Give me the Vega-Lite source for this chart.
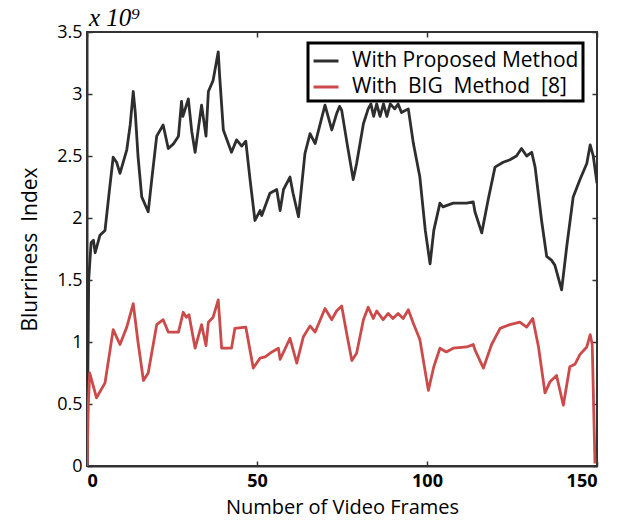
{
  "$schema": "https://vega.github.io/schema/vega-lite/v6.json",
  "width": 510,
  "height": 434,
  "autosize": {"type": "none"},
  "padding": {"left": 87, "top": 32, "right": 23, "bottom": 59},
  "background": "white",
  "config": {
    "view": {"stroke": "#333", "strokeWidth": 2},
    "font": "Lato",
    "legend": {"strokeWidth": 3}
  },
  "title": {
    "text": "x 10⁹",
    "anchor": "start",
    "frame": "group",
    "font": "Liberation Serif",
    "fontSize": 25,
    "fontStyle": "italic",
    "fontWeight": "normal",
    "color": "black",
    "offset": -8,
    "dx": 2
  },
  "data": {
    "values": [
      {"f": 0, "v": 0, "s": "With Proposed Method"},
      {"f": 0.5, "v": 1.5, "s": "With Proposed Method"},
      {"f": 1.2, "v": 1.8, "s": "With Proposed Method"},
      {"f": 1.9, "v": 1.82, "s": "With Proposed Method"},
      {"f": 2.4, "v": 1.72, "s": "With Proposed Method"},
      {"f": 3.8, "v": 1.86, "s": "With Proposed Method"},
      {"f": 5.3, "v": 1.9, "s": "With Proposed Method"},
      {"f": 6.5, "v": 2.2, "s": "With Proposed Method"},
      {"f": 7.7, "v": 2.49, "s": "With Proposed Method"},
      {"f": 8.7, "v": 2.45, "s": "With Proposed Method"},
      {"f": 9.7, "v": 2.36, "s": "With Proposed Method"},
      {"f": 11.7, "v": 2.55, "s": "With Proposed Method"},
      {"f": 12.7, "v": 2.75, "s": "With Proposed Method"},
      {"f": 13.6, "v": 3.02, "s": "With Proposed Method"},
      {"f": 14.2, "v": 2.85, "s": "With Proposed Method"},
      {"f": 15, "v": 2.5, "s": "With Proposed Method"},
      {"f": 16.1, "v": 2.17, "s": "With Proposed Method"},
      {"f": 18, "v": 2.05, "s": "With Proposed Method"},
      {"f": 19, "v": 2.3, "s": "With Proposed Method"},
      {"f": 20.5, "v": 2.66, "s": "With Proposed Method"},
      {"f": 22.4, "v": 2.75, "s": "With Proposed Method"},
      {"f": 23.9, "v": 2.56, "s": "With Proposed Method"},
      {"f": 25.5, "v": 2.6, "s": "With Proposed Method"},
      {"f": 26.9, "v": 2.66, "s": "With Proposed Method"},
      {"f": 27.8, "v": 2.94, "s": "With Proposed Method"},
      {"f": 28.2, "v": 2.82, "s": "With Proposed Method"},
      {"f": 29.8, "v": 2.96, "s": "With Proposed Method"},
      {"f": 30.8, "v": 2.7, "s": "With Proposed Method"},
      {"f": 31.8, "v": 2.53, "s": "With Proposed Method"},
      {"f": 33.7, "v": 2.91, "s": "With Proposed Method"},
      {"f": 35, "v": 2.66, "s": "With Proposed Method"},
      {"f": 35.7, "v": 3.02, "s": "With Proposed Method"},
      {"f": 37.1, "v": 3.11, "s": "With Proposed Method"},
      {"f": 38.6, "v": 3.34, "s": "With Proposed Method"},
      {"f": 39, "v": 3.15, "s": "With Proposed Method"},
      {"f": 40.1, "v": 2.71, "s": "With Proposed Method"},
      {"f": 42.5, "v": 2.53, "s": "With Proposed Method"},
      {"f": 44, "v": 2.63, "s": "With Proposed Method"},
      {"f": 45.5, "v": 2.58, "s": "With Proposed Method"},
      {"f": 46.7, "v": 2.62, "s": "With Proposed Method"},
      {"f": 48, "v": 2.3, "s": "With Proposed Method"},
      {"f": 49.4, "v": 1.98, "s": "With Proposed Method"},
      {"f": 50.9, "v": 2.06, "s": "With Proposed Method"},
      {"f": 51.4, "v": 2.02, "s": "With Proposed Method"},
      {"f": 53.8, "v": 2.2, "s": "With Proposed Method"},
      {"f": 55.8, "v": 2.23, "s": "With Proposed Method"},
      {"f": 56.8, "v": 2.06, "s": "With Proposed Method"},
      {"f": 57.8, "v": 2.23, "s": "With Proposed Method"},
      {"f": 59.7, "v": 2.33, "s": "With Proposed Method"},
      {"f": 60.6, "v": 2.2, "s": "With Proposed Method"},
      {"f": 62.2, "v": 2.01, "s": "With Proposed Method"},
      {"f": 64.1, "v": 2.52, "s": "With Proposed Method"},
      {"f": 65.6, "v": 2.68, "s": "With Proposed Method"},
      {"f": 67.1, "v": 2.6, "s": "With Proposed Method"},
      {"f": 70, "v": 2.91, "s": "With Proposed Method"},
      {"f": 72, "v": 2.71, "s": "With Proposed Method"},
      {"f": 73.4, "v": 2.84, "s": "With Proposed Method"},
      {"f": 74.3, "v": 2.9, "s": "With Proposed Method"},
      {"f": 74.9, "v": 2.87, "s": "With Proposed Method"},
      {"f": 76.5, "v": 2.6, "s": "With Proposed Method"},
      {"f": 78.3, "v": 2.31, "s": "With Proposed Method"},
      {"f": 79.3, "v": 2.44, "s": "With Proposed Method"},
      {"f": 81.3, "v": 2.76, "s": "With Proposed Method"},
      {"f": 82.7, "v": 2.88, "s": "With Proposed Method"},
      {"f": 83.5, "v": 2.92, "s": "With Proposed Method"},
      {"f": 84.3, "v": 2.82, "s": "With Proposed Method"},
      {"f": 85.2, "v": 2.92, "s": "With Proposed Method"},
      {"f": 86.2, "v": 2.82, "s": "With Proposed Method"},
      {"f": 87.2, "v": 2.92, "s": "With Proposed Method"},
      {"f": 88.2, "v": 2.82, "s": "With Proposed Method"},
      {"f": 89.2, "v": 2.92, "s": "With Proposed Method"},
      {"f": 90.5, "v": 2.88, "s": "With Proposed Method"},
      {"f": 91.5, "v": 2.92, "s": "With Proposed Method"},
      {"f": 92.5, "v": 2.85, "s": "With Proposed Method"},
      {"f": 94.5, "v": 2.88, "s": "With Proposed Method"},
      {"f": 96, "v": 2.6, "s": "With Proposed Method"},
      {"f": 97.9, "v": 2.33, "s": "With Proposed Method"},
      {"f": 99.5, "v": 1.9, "s": "With Proposed Method"},
      {"f": 100.9, "v": 1.63, "s": "With Proposed Method"},
      {"f": 102, "v": 1.9, "s": "With Proposed Method"},
      {"f": 103.8, "v": 2.12, "s": "With Proposed Method"},
      {"f": 104.7, "v": 2.09, "s": "With Proposed Method"},
      {"f": 107.7, "v": 2.12, "s": "With Proposed Method"},
      {"f": 111.7, "v": 2.12, "s": "With Proposed Method"},
      {"f": 113.6, "v": 2.13, "s": "With Proposed Method"},
      {"f": 114.1, "v": 2.05, "s": "With Proposed Method"},
      {"f": 116.1, "v": 1.88, "s": "With Proposed Method"},
      {"f": 118, "v": 2.15, "s": "With Proposed Method"},
      {"f": 120, "v": 2.41, "s": "With Proposed Method"},
      {"f": 122.4, "v": 2.45, "s": "With Proposed Method"},
      {"f": 124.4, "v": 2.47, "s": "With Proposed Method"},
      {"f": 126.3, "v": 2.5, "s": "With Proposed Method"},
      {"f": 127.8, "v": 2.56, "s": "With Proposed Method"},
      {"f": 129.3, "v": 2.5, "s": "With Proposed Method"},
      {"f": 130.8, "v": 2.53, "s": "With Proposed Method"},
      {"f": 131.8, "v": 2.41, "s": "With Proposed Method"},
      {"f": 133.7, "v": 1.98, "s": "With Proposed Method"},
      {"f": 135.2, "v": 1.69, "s": "With Proposed Method"},
      {"f": 136.6, "v": 1.66, "s": "With Proposed Method"},
      {"f": 137.6, "v": 1.62, "s": "With Proposed Method"},
      {"f": 139.6, "v": 1.42, "s": "With Proposed Method"},
      {"f": 141.1, "v": 1.77, "s": "With Proposed Method"},
      {"f": 143, "v": 2.17, "s": "With Proposed Method"},
      {"f": 145, "v": 2.31, "s": "With Proposed Method"},
      {"f": 147, "v": 2.44, "s": "With Proposed Method"},
      {"f": 148, "v": 2.59, "s": "With Proposed Method"},
      {"f": 148.9, "v": 2.5, "s": "With Proposed Method"},
      {"f": 150, "v": 2.28, "s": "With Proposed Method"},
      {"f": 0, "v": 0, "s": "With\u00a0 BIG\u00a0 Method\u00a0 [8]"},
      {"f": 0.4, "v": 0.5, "s": "With\u00a0 BIG\u00a0 Method\u00a0 [8]"},
      {"f": 0.8, "v": 0.75, "s": "With\u00a0 BIG\u00a0 Method\u00a0 [8]"},
      {"f": 1.4, "v": 0.69, "s": "With\u00a0 BIG\u00a0 Method\u00a0 [8]"},
      {"f": 2.8, "v": 0.55, "s": "With\u00a0 BIG\u00a0 Method\u00a0 [8]"},
      {"f": 5.3, "v": 0.67, "s": "With\u00a0 BIG\u00a0 Method\u00a0 [8]"},
      {"f": 7.7, "v": 1.1, "s": "With\u00a0 BIG\u00a0 Method\u00a0 [8]"},
      {"f": 9.7, "v": 0.98, "s": "With\u00a0 BIG\u00a0 Method\u00a0 [8]"},
      {"f": 11.7, "v": 1.12, "s": "With\u00a0 BIG\u00a0 Method\u00a0 [8]"},
      {"f": 13.6, "v": 1.31, "s": "With\u00a0 BIG\u00a0 Method\u00a0 [8]"},
      {"f": 15, "v": 1.0, "s": "With\u00a0 BIG\u00a0 Method\u00a0 [8]"},
      {"f": 16.6, "v": 0.69, "s": "With\u00a0 BIG\u00a0 Method\u00a0 [8]"},
      {"f": 18, "v": 0.75, "s": "With\u00a0 BIG\u00a0 Method\u00a0 [8]"},
      {"f": 20.5, "v": 1.14, "s": "With\u00a0 BIG\u00a0 Method\u00a0 [8]"},
      {"f": 22.4, "v": 1.18, "s": "With\u00a0 BIG\u00a0 Method\u00a0 [8]"},
      {"f": 23.9, "v": 1.08, "s": "With\u00a0 BIG\u00a0 Method\u00a0 [8]"},
      {"f": 26.9, "v": 1.08, "s": "With\u00a0 BIG\u00a0 Method\u00a0 [8]"},
      {"f": 28.3, "v": 1.24, "s": "With\u00a0 BIG\u00a0 Method\u00a0 [8]"},
      {"f": 29.2, "v": 1.2, "s": "With\u00a0 BIG\u00a0 Method\u00a0 [8]"},
      {"f": 30, "v": 1.22, "s": "With\u00a0 BIG\u00a0 Method\u00a0 [8]"},
      {"f": 31.8, "v": 0.95, "s": "With\u00a0 BIG\u00a0 Method\u00a0 [8]"},
      {"f": 33.7, "v": 1.14, "s": "With\u00a0 BIG\u00a0 Method\u00a0 [8]"},
      {"f": 35, "v": 0.97, "s": "With\u00a0 BIG\u00a0 Method\u00a0 [8]"},
      {"f": 35.7, "v": 1.16, "s": "With\u00a0 BIG\u00a0 Method\u00a0 [8]"},
      {"f": 37.1, "v": 1.2, "s": "With\u00a0 BIG\u00a0 Method\u00a0 [8]"},
      {"f": 38.6, "v": 1.34, "s": "With\u00a0 BIG\u00a0 Method\u00a0 [8]"},
      {"f": 39.6, "v": 0.95, "s": "With\u00a0 BIG\u00a0 Method\u00a0 [8]"},
      {"f": 42.5, "v": 0.95, "s": "With\u00a0 BIG\u00a0 Method\u00a0 [8]"},
      {"f": 43.5, "v": 1.11, "s": "With\u00a0 BIG\u00a0 Method\u00a0 [8]"},
      {"f": 46.7, "v": 1.12, "s": "With\u00a0 BIG\u00a0 Method\u00a0 [8]"},
      {"f": 48.9, "v": 0.79, "s": "With\u00a0 BIG\u00a0 Method\u00a0 [8]"},
      {"f": 50.9, "v": 0.87, "s": "With\u00a0 BIG\u00a0 Method\u00a0 [8]"},
      {"f": 52.4, "v": 0.88, "s": "With\u00a0 BIG\u00a0 Method\u00a0 [8]"},
      {"f": 54.4, "v": 0.92, "s": "With\u00a0 BIG\u00a0 Method\u00a0 [8]"},
      {"f": 56.3, "v": 0.95, "s": "With\u00a0 BIG\u00a0 Method\u00a0 [8]"},
      {"f": 56.8, "v": 0.86, "s": "With\u00a0 BIG\u00a0 Method\u00a0 [8]"},
      {"f": 59.7, "v": 1.03, "s": "With\u00a0 BIG\u00a0 Method\u00a0 [8]"},
      {"f": 61.7, "v": 0.83, "s": "With\u00a0 BIG\u00a0 Method\u00a0 [8]"},
      {"f": 63.6, "v": 1.04, "s": "With\u00a0 BIG\u00a0 Method\u00a0 [8]"},
      {"f": 65.6, "v": 1.13, "s": "With\u00a0 BIG\u00a0 Method\u00a0 [8]"},
      {"f": 67.1, "v": 1.08, "s": "With\u00a0 BIG\u00a0 Method\u00a0 [8]"},
      {"f": 70, "v": 1.27, "s": "With\u00a0 BIG\u00a0 Method\u00a0 [8]"},
      {"f": 72, "v": 1.18, "s": "With\u00a0 BIG\u00a0 Method\u00a0 [8]"},
      {"f": 73.4, "v": 1.25, "s": "With\u00a0 BIG\u00a0 Method\u00a0 [8]"},
      {"f": 74.9, "v": 1.29, "s": "With\u00a0 BIG\u00a0 Method\u00a0 [8]"},
      {"f": 76.5, "v": 1.05, "s": "With\u00a0 BIG\u00a0 Method\u00a0 [8]"},
      {"f": 77.9, "v": 0.85, "s": "With\u00a0 BIG\u00a0 Method\u00a0 [8]"},
      {"f": 79.3, "v": 0.91, "s": "With\u00a0 BIG\u00a0 Method\u00a0 [8]"},
      {"f": 81.3, "v": 1.18, "s": "With\u00a0 BIG\u00a0 Method\u00a0 [8]"},
      {"f": 82.7, "v": 1.28, "s": "With\u00a0 BIG\u00a0 Method\u00a0 [8]"},
      {"f": 84.2, "v": 1.19, "s": "With\u00a0 BIG\u00a0 Method\u00a0 [8]"},
      {"f": 85.2, "v": 1.25, "s": "With\u00a0 BIG\u00a0 Method\u00a0 [8]"},
      {"f": 87.1, "v": 1.18, "s": "With\u00a0 BIG\u00a0 Method\u00a0 [8]"},
      {"f": 88.6, "v": 1.23, "s": "With\u00a0 BIG\u00a0 Method\u00a0 [8]"},
      {"f": 90, "v": 1.19, "s": "With\u00a0 BIG\u00a0 Method\u00a0 [8]"},
      {"f": 91.5, "v": 1.23, "s": "With\u00a0 BIG\u00a0 Method\u00a0 [8]"},
      {"f": 93, "v": 1.19, "s": "With\u00a0 BIG\u00a0 Method\u00a0 [8]"},
      {"f": 94.5, "v": 1.26, "s": "With\u00a0 BIG\u00a0 Method\u00a0 [8]"},
      {"f": 96, "v": 1.15, "s": "With\u00a0 BIG\u00a0 Method\u00a0 [8]"},
      {"f": 97.9, "v": 1.02, "s": "With\u00a0 BIG\u00a0 Method\u00a0 [8]"},
      {"f": 100.4, "v": 0.61, "s": "With\u00a0 BIG\u00a0 Method\u00a0 [8]"},
      {"f": 102, "v": 0.8, "s": "With\u00a0 BIG\u00a0 Method\u00a0 [8]"},
      {"f": 103.8, "v": 0.95, "s": "With\u00a0 BIG\u00a0 Method\u00a0 [8]"},
      {"f": 105.7, "v": 0.92, "s": "With\u00a0 BIG\u00a0 Method\u00a0 [8]"},
      {"f": 107.7, "v": 0.95, "s": "With\u00a0 BIG\u00a0 Method\u00a0 [8]"},
      {"f": 111.7, "v": 0.96, "s": "With\u00a0 BIG\u00a0 Method\u00a0 [8]"},
      {"f": 113.6, "v": 0.98, "s": "With\u00a0 BIG\u00a0 Method\u00a0 [8]"},
      {"f": 114.2, "v": 0.93, "s": "With\u00a0 BIG\u00a0 Method\u00a0 [8]"},
      {"f": 116.6, "v": 0.79, "s": "With\u00a0 BIG\u00a0 Method\u00a0 [8]"},
      {"f": 119, "v": 0.98, "s": "With\u00a0 BIG\u00a0 Method\u00a0 [8]"},
      {"f": 121.5, "v": 1.11, "s": "With\u00a0 BIG\u00a0 Method\u00a0 [8]"},
      {"f": 124.4, "v": 1.14, "s": "With\u00a0 BIG\u00a0 Method\u00a0 [8]"},
      {"f": 127.3, "v": 1.16, "s": "With\u00a0 BIG\u00a0 Method\u00a0 [8]"},
      {"f": 129.3, "v": 1.12, "s": "With\u00a0 BIG\u00a0 Method\u00a0 [8]"},
      {"f": 131.1, "v": 1.19, "s": "With\u00a0 BIG\u00a0 Method\u00a0 [8]"},
      {"f": 132.8, "v": 0.96, "s": "With\u00a0 BIG\u00a0 Method\u00a0 [8]"},
      {"f": 134.7, "v": 0.59, "s": "With\u00a0 BIG\u00a0 Method\u00a0 [8]"},
      {"f": 136.2, "v": 0.68, "s": "With\u00a0 BIG\u00a0 Method\u00a0 [8]"},
      {"f": 138.1, "v": 0.73, "s": "With\u00a0 BIG\u00a0 Method\u00a0 [8]"},
      {"f": 140.1, "v": 0.49, "s": "With\u00a0 BIG\u00a0 Method\u00a0 [8]"},
      {"f": 142, "v": 0.8, "s": "With\u00a0 BIG\u00a0 Method\u00a0 [8]"},
      {"f": 143.5, "v": 0.82, "s": "With\u00a0 BIG\u00a0 Method\u00a0 [8]"},
      {"f": 145, "v": 0.9, "s": "With\u00a0 BIG\u00a0 Method\u00a0 [8]"},
      {"f": 147, "v": 0.96, "s": "With\u00a0 BIG\u00a0 Method\u00a0 [8]"},
      {"f": 148, "v": 1.06, "s": "With\u00a0 BIG\u00a0 Method\u00a0 [8]"},
      {"f": 148.6, "v": 0.98, "s": "With\u00a0 BIG\u00a0 Method\u00a0 [8]"},
      {"f": 149.4, "v": 0.02, "s": "With\u00a0 BIG\u00a0 Method\u00a0 [8]"}
    ]
  },
  "resolve": {"axis": {"x": "independent", "y": "independent"}},
  "layer": [
    {
      "mark": {"type": "line", "strokeWidth": 2.8, "strokeJoin": "round", "clip": true},
      "encoding": {
        "x": {
          "field": "f", "type": "quantitative",
          "scale": {"domain": [0, 150], "nice": false, "zero": false},
          "axis": {
            "title": "Number of Video Frames",
            "titleFont": "Open Sans", "titleFontSize": 20, "titleFontWeight": "normal", "titleColor": "black",
            "titlePadding": 7,
            "values": [0, 50, 100, 150],
            "labelFont": "Open Sans", "labelFontSize": 18, "labelFontWeight": "bold", "labelColor": "black",
            "labelPadding": 11,
            "tickSize": -5, "tickColor": "#333", "tickWidth": 1.5,
            "domainColor": "#333", "domainWidth": 2, "grid": false
          }
        },
        "y": {
          "field": "v", "type": "quantitative",
          "scale": {"domain": [0, 3.5], "nice": false},
          "axis": {
            "title": "Blurriness\u00a0 Index",
            "titleFont": "Open Sans", "titleFontSize": 21, "titleFontWeight": "normal", "titleColor": "black",
            "titlePadding": 16,
            "format": "~g",
            "values": [0, 0.5, 1, 1.5, 2, 2.5, 3, 3.5],
            "labelFont": "Open Sans", "labelFontSize": 18, "labelColor": "black",
            "labelPadding": 10,
            "tickSize": -5, "tickColor": "#333", "tickWidth": 1.5,
            "domainColor": "#333", "domainWidth": 2, "grid": false
          }
        },
        "color": {
          "field": "s", "type": "nominal",
          "scale": {"domain": ["With Proposed Method", "With\u00a0 BIG\u00a0 Method\u00a0 [8]"], "range": ["#2e2e2e", "#cc4a4a"]},
          "legend": {
            "title": null,
            "orient": "none",
            "legendX": 221,
            "legendY": 11,
            "symbolType": "stroke",
            "symbolStrokeWidth": 3,
            "symbolSize": 625,
            "labelFont": "Open Sans",
            "labelFontSize": 21,
            "labelLimit": 400,
            "labelColor": "black",
            "labelOffset": 12,
            "rowPadding": 2,
            "padding": 4,
            "strokeColor": "black",
            "fillColor": "white"
          }
        }
      }
    },
    {
      "mark": {"type": "line", "strokeOpacity": 0},
      "encoding": {
        "x": {
          "field": "f", "type": "quantitative",
          "axis": {"orient": "top", "title": null, "labels": false, "values": [0, 50, 100, 150], "tickSize": -5, "tickColor": "#333", "tickWidth": 1.5, "domain": false, "grid": false}
        },
        "y": {
          "field": "v", "type": "quantitative",
          "axis": {"orient": "right", "title": null, "labels": false, "values": [0, 0.5, 1, 1.5, 2, 2.5, 3, 3.5], "tickSize": -5, "tickColor": "#333", "tickWidth": 1.5, "domain": false, "grid": false}
        },
        "detail": {"field": "s", "type": "nominal"}
      }
    }
  ]
}
